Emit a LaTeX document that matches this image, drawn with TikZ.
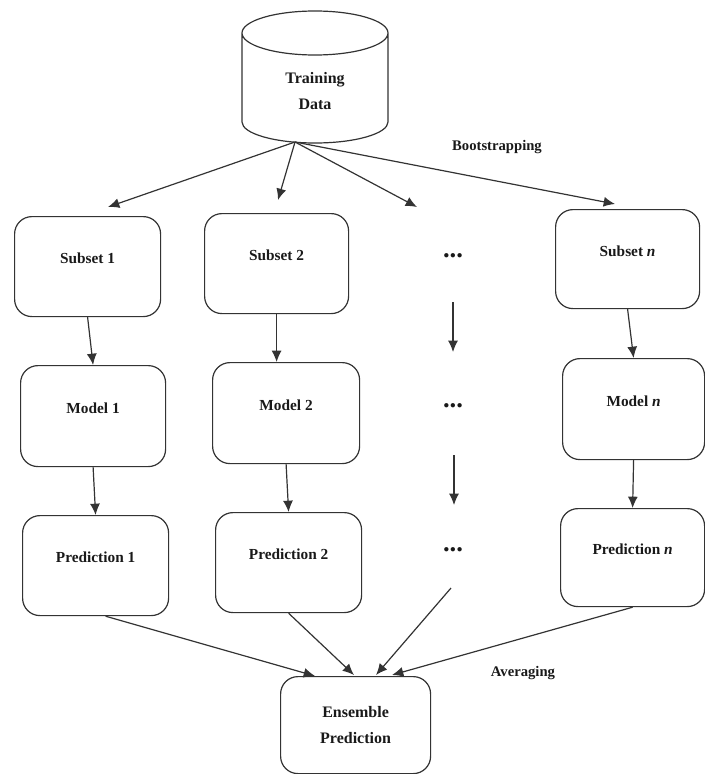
\documentclass[tikz,border=0pt]{standalone}
\usepackage{fontspec}
\setmainfont{Liberation Serif}
\usetikzlibrary{arrows.meta}
\tikzset{
  x=0.75pt,y=-0.75pt,
  box/.style={draw=black!80,line width=0.9pt,rounded corners=13pt,anchor=north west,inner sep=0pt,
    font=\bfseries\fontsize{11.5}{15}\selectfont,align=center,text=black!90},
  lbl/.style={font=\bfseries\fontsize{11}{17}\selectfont,align=center,text=black!90},
  dots/.style={font=\bfseries\fontsize{20}{20}\selectfont,text=black!90},
  conn/.style={draw=black!80,line width=0.9pt,-{Latex[length=8.5pt,width=7.5pt]}}
}
\newcommand{\bx}[6]{\node[box,minimum width=#4*0.75pt-#2*0.75pt,minimum height=#5*0.75pt-#3*0.75pt] (#1) at (#2,#3) {#6};}
\begin{document}
\begin{tikzpicture}
\useasboundingbox (0,0) rectangle (705,774);
% cylinder
\draw[draw=black!80,line width=0.9pt] (242,33) arc[x radius=73pt*0.75,y radius=22pt*0.75,start angle=180,end angle=540]
  (242,33) -- (242,122) arc[x radius=73pt*0.75,y radius=21pt*0.75,start angle=180,end angle=360] -- (388,33);
\node[lbl,font=\bfseries\fontsize{12}{20}\selectfont] (train) at (315,91) {Training\\Data};
\coordinate (tb) at (295,142);
\bx{s1}{14}{216}{160}{316}{\raisebox{12pt}{Subset 1}}
\bx{s2}{204}{213}{348}{313}{\raisebox{12pt}{Subset 2}}
\bx{sn}{555}{209}{699}{308}{\raisebox{12pt}{Subset \textit{n}}}
\bx{m1}{20}{365}{165}{466}{\raisebox{12pt}{Model 1}}
\bx{m2}{212}{362}{359}{463}{\raisebox{12pt}{Model 2}}
\bx{mn}{562}{358}{704}{459}{\raisebox{12pt}{Model \textit{n}}}
\bx{p1}{22}{515}{168}{615}{\raisebox{12pt}{Prediction 1}}
\bx{p2}{215}{512}{361}{612}{\raisebox{12pt}{Prediction 2}}
\bx{pn}{560}{508}{704}{606}{\raisebox{12pt}{Prediction \textit{n}}}
\bx{ens}{280}{676}{430}{773}{\raisebox{6pt}{\parbox{80pt}{\centering\fontsize{12}{19}\selectfont Ensemble\\Prediction}}}
\node[lbl] (boot) at (497,147) {Bootstrapping};
\node[lbl] (avg) at (523,673) {Averaging};
\node[dots] (d1) at (453,256) {...};
\node[dots] (d2) at (453,406) {...};
\node[dots] (d3) at (453,550) {...};
% free ends
\coordinate (e1) at (108,207);
\coordinate (e2) at (278,200);
\coordinate (e3) at (417,207);
\coordinate (e4) at (615,204);
\coordinate (a1) at (453,302); \coordinate (a2) at (453,352);
\coordinate (b1) at (454,455); \coordinate (b2) at (454,505);
\coordinate (c1) at (451,588);
\coordinate (f1) at (315,676); \coordinate (f2) at (354,675);
\coordinate (f3) at (376,675); \coordinate (f4) at (392,675);
\draw[conn] (tb) -- (e1);
\draw[conn] (tb) -- (e2);
\draw[conn] (tb) -- (e3);
\draw[conn] (tb) -- (e4);
\draw[conn] (s1.south) ++(0,0) -- (m1.north);
\draw[conn] (s2.south) -- (m2.north -| s2.south);
\draw[conn] (sn.south) -- (mn.north);
\draw[conn] (m1.south) -- (p1.north);
\draw[conn] (m2.south) -- (p2.north);
\draw[conn] (mn.south) -- (pn.north);
\draw[conn] (a1) -- (a2);
\draw[conn] (b1) -- (b2);
\draw[conn] (p1.south) ++(10,0) -- (f1);
\draw[conn] (p2.south) -- (f2);
\draw[conn] (c1) -- (f3);
\draw[conn] (pn.south) -- (f4);
\end{tikzpicture}
\end{document}
